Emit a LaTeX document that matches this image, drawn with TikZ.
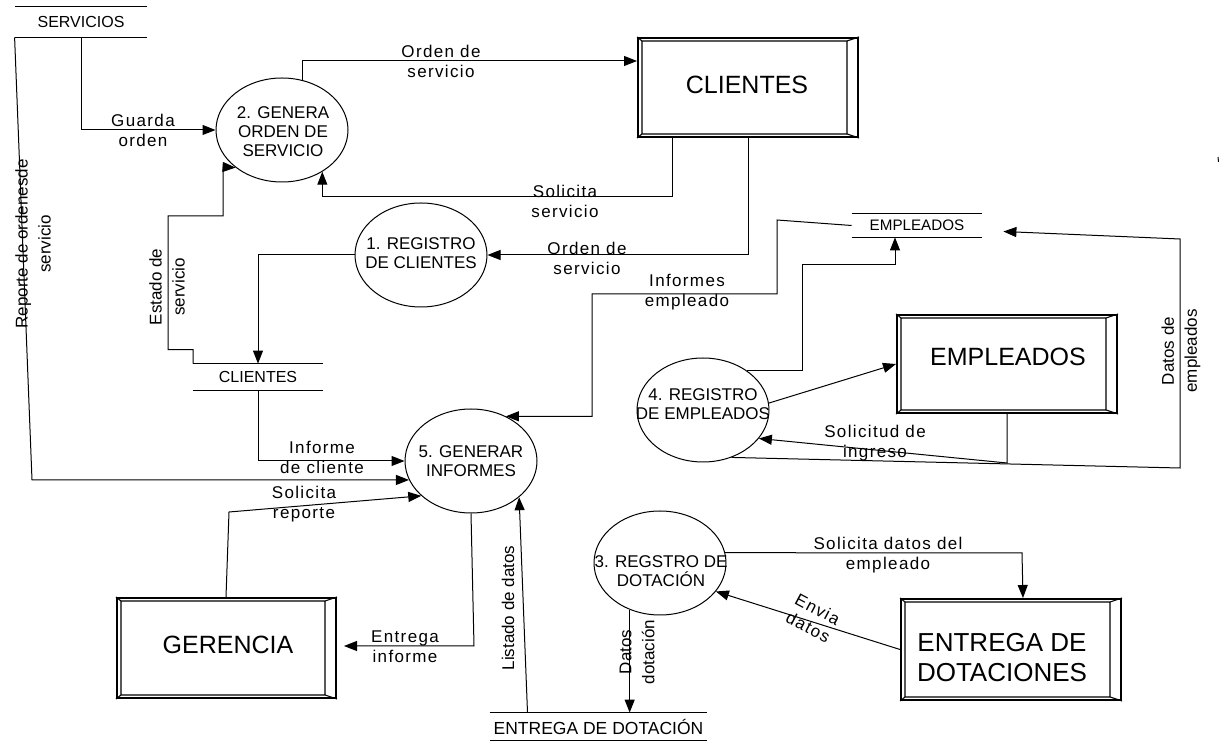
\documentclass[tikz,border=0pt]{standalone}
\usepackage{fontspec}
\setmainfont{Liberation Sans}
\newfontfamily\lblfamily[LetterSpace=8]{Liberation Sans}
\usetikzlibrary{shapes.geometric,arrows.meta}
\newcommand\extbevel[1]{%
  \draw[line width=0.55pt]
    ([shift={(5,4)}]#1.north west) rectangle ([shift={(-12,-4)}]#1.south east)
    (#1.north west) -- ([shift={(5,4)}]#1.north west)
    (#1.north east) -- ([shift={(-12,4)}]#1.north east)
    (#1.south east) -- ([shift={(-12,-4)}]#1.south east)
    (#1.south west) -- ([shift={(5,-4)}]#1.south west);}
\newcommand\storelines[1]{%
  \draw[line width=0.5pt] (#1.north west) -- (#1.north east) (#1.south west) -- (#1.south east);}
\begin{document}
\begin{tikzpicture}[x=0.5pt,y=-0.5pt,
  proc/.style={draw,ellipse,line width=0.5pt,minimum width=66pt,minimum height=52pt,inner sep=0pt},
  ptext/.style={align=center,font=\fontsize{8.5}{9.5}\selectfont,inner sep=0pt},
  ext/.style={draw,line width=1pt,inner sep=0pt,minimum width=110pt,minimum height=50pt},
  bigtext/.style={align=center,inner sep=0pt,font=\fontsize{12.5}{15}\selectfont},
  store/.style={inner sep=0pt,font=\fontsize{8}{9}\selectfont},
  lbl/.style={align=center,inner sep=0pt,font=\lblfamily\fontsize{8.5}{10}\selectfont},
  rlbl/.style={align=center,inner sep=0pt,rotate=90,font=\fontsize{8.5}{11.5}\selectfont},
  arr/.style={draw,line width=0.5pt,-{Triangle[length=6.5pt,width=5pt]}},
  ln/.style={draw,line width=0.5pt},
]
\useasboundingbox (0,0) rectangle (1221,742);

% processes
\node[proc] (e2) at (282,130) {};
\node[ptext] (t2) at (283,132) {2. GENERA\\ORDEN DE\\SERVICIO};
\node[proc] (e1) at (421,255) {};
\node[ptext] (t1) at (421,253) {1. REGISTRO\\DE CLIENTES};
\node[proc] (e5) at (471,461) {};
\node[ptext] (t5) at (471,461) {5. GENERAR\\INFORMES};
\node[proc] (e4) at (703,410) {};
\node[ptext] (t4) at (703,404) {4. REGISTRO\\DE EMPLEADOS};
\node[proc] (e3) at (660,563) {};
\node[ptext] (t3) at (661,571) {3. REGSTRO DE\\DOTACIÓN};

% external entities
\node[ext,minimum height=49.5pt] (cCli) at (748,87.5) {};
\node[bigtext] (cCliT) at (747,85) {CLIENTES};
\extbevel{cCli}
\node[ext,minimum height=49pt] (eBox) at (1007,364) {};
\node[bigtext] (eBoxT) at (1008,357) {EMPLEADOS};
\extbevel{eBox}
\node[ext,minimum width=109.5pt] (gBox) at (226.5,648) {};
\node[bigtext] (gBoxT) at (228,645) {GERENCIA};
\extbevel{gBox}
\node[ext,minimum height=50.5pt] (dBox) at (1011,649.5) {};
\node[bigtext,font=\fontsize{13}{15}\selectfont] (dBoxT) at (1002,658) {ENTREGA DE\\DOTACIONES};
\extbevel{dBox}

% data stores
\node[store,minimum width=66pt,minimum height=15pt] (sServ) at (81,22) {SERVICIOS};
\storelines{sServ}
\node[store,minimum width=64.5pt,minimum height=13pt] (sCli) at (258,377) {CLIENTES};
\storelines{sCli}
\node[store,minimum width=65pt,minimum height=11.5pt,font=\fontsize{7.6}{9}\selectfont] (sEmp) at (917,225.5) {EMPLEADOS};
\storelines{sEmp}
\node[store,minimum width=108.5pt,minimum height=13.5pt,font=\fontsize{8.75}{10}\selectfont] (sDot) at (598.5,726.5) {ENTREGA DE DOTACIÓN};
\storelines{sDot}

% flows
\draw[arr] (sServ.south) |- (e2.west);
\draw[arr] (sServ.south west) -- (32,480) -- (e5.197);
\draw[arr] (e2.68) |- ([shift={(0,24)}]cCli.north west);
\draw[arr] ([shift={(35,0)}]cCli.south west) -- ++(0,59) -| (e2.-46);
\draw[arr] (cCli.south) |- (e1.east);
\draw[arr] (e1.west) -| (sCli.north);
\draw[arr] (sCli.north west) -- ++(0,-14) -| (168,216) -| (223,167) -- (e2.219);
\draw[arr] (sCli.south) |- (e5.west);
\draw[arr] ([shift={(110,0)}]gBox.north west) -- (229,512) -- (e5.215);
\draw[arr] (e5.south) -- (474,646) -- ([shift={(7,-2)}]gBox.east);
\draw[arr] (sEmp.west) -- (777,220) |- (592,294) |- (e5.52);
\draw[arr] (e4.42) -| (802,265) -| ([shift={(-22,0)}]sEmp.south);
\draw[arr] (e4.6) -- (eBox.west);
\draw[arr] (eBox.south) -- ++(0,49) -- (e4.-27);
\draw[arr] (e4.-59) -- (1180,468) -- (1180,239) -- ([shift={(21,6)}]sEmp.east);
\draw[arr] (e3.9) -- (1022,553) -- ([shift={(123,0)}]dBox.north west);
\draw[arr] (dBox.west) -- (e3.-27);
\draw[arr] (e3.237) -- (e3.237 |- sDot.north);
\draw[arr] ([shift={(-71,0)}]sDot.north) -- (e5.-37);

% labels
\node[lbl] (l1) at (143,130) {Guarda\\orden};
\node[lbl] (l2) at (441,61) {Orden de\\servicio};
\node[lbl] (l3) at (565,201) {Solicita\\servicio};
\node[lbl] (l4) at (587,258) {Orden de\\servicio};
\node[lbl] (l5) at (687,292) {Informes\\empleado};
\node[lbl] (l6) at (322,457) {Informe\\de cliente};
\node[lbl] (l7) at (304,504) {Solicita\\reporte};
\node[lbl] (l8) at (405,647) {Entrega\\informe};
\node[lbl] (l9) at (875,443) {Solicitud de\\ingreso};
\node[lbl] (l10) at (888,555) {Solicita datos del\\empleado};
\node[lbl,rotate=-28] (l11) at (813,618) {Envia\\datos};
\node[rlbl] (r1) at (33,244) {Reporte de ordenesde\\servicio};
\node[rlbl] (r2) at (167,287) {Estado de\\servicio};
\node[rlbl] (r3) at (1181,351) {Datos de\\empleados};
\node[rlbl] (r4) at (637,652) {Datos\\dotación};
\node[rlbl] (r5) at (508,608) {Listado de datos};

% stray mark
\draw[ln] (1218,157) -- (1218.5,162);
\end{tikzpicture}
\end{document}
